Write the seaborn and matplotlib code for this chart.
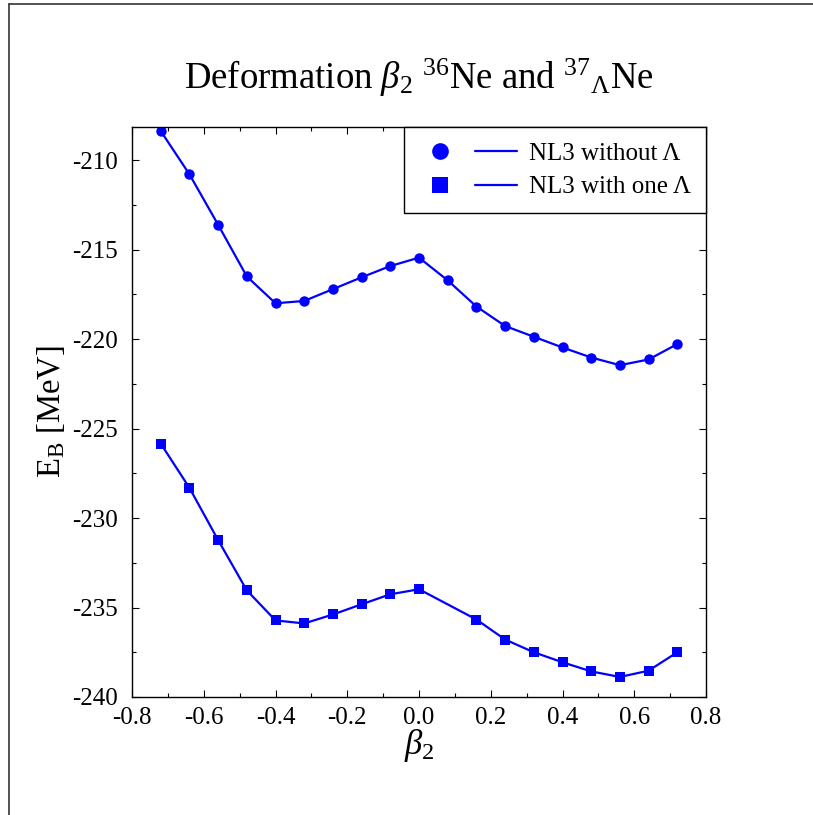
import matplotlib
matplotlib.use("Agg")
import matplotlib.pyplot as plt
import seaborn as sns
import pandas as pd
from matplotlib.lines import Line2D
from matplotlib.legend_handler import HandlerTuple
from matplotlib.ticker import MultipleLocator

# ---- data ----
beta_without = [-0.72, -0.64, -0.56, -0.48, -0.40, -0.32, -0.24, -0.16, -0.08, 0.00,
                0.08, 0.16, 0.24, 0.32, 0.40, 0.48, 0.56, 0.64, 0.72]
eb_without = [-208.37, -210.79, -213.61, -216.50, -218.00, -217.87, -217.21, -216.55,
              -215.92, -215.45, -216.72, -218.18, -219.27, -219.87, -220.47, -221.03,
              -221.46, -221.14, -220.28]
beta_with = [-0.72, -0.64, -0.56, -0.48, -0.40, -0.32, -0.24, -0.16, -0.08, 0.00,
             0.16, 0.24, 0.32, 0.40, 0.48, 0.56, 0.64, 0.72]
eb_with = [-225.84, -228.31, -231.23, -234.04, -235.72, -235.89, -235.39, -234.82,
           -234.26, -233.98, -235.67, -236.79, -237.50, -238.06, -238.57, -238.88,
           -238.53, -237.50]
label_without = "NL3 without Λ"
label_with = "NL3 with one Λ"
x_ticks = [-0.8, -0.6, -0.4, -0.2, 0.0, 0.2, 0.4, 0.6, 0.8]
y_ticks = [-240, -235, -230, -225, -220, -215, -210]

sns.set_theme(style="ticks")
plt.rcParams["font.family"] = ["Liberation Serif", "DejaVu Serif"]
plt.rcParams["mathtext.fontset"] = "custom"
plt.rcParams["mathtext.rm"] = "Liberation Serif"
plt.rcParams["mathtext.it"] = "Liberation Serif:italic"
plt.rcParams["mathtext.bf"] = "Liberation Serif:bold"
plt.rcParams["text.color"] = "black"
plt.rcParams["axes.labelcolor"] = "black"

BLUE = "#0000ff"

fig = plt.figure(figsize=(8.13, 8.15), dpi=100)
ax = fig.add_axes([132 / 813, 1 - 697 / 815, (706 - 132) / 813, (697 - 127) / 815])

df1 = pd.DataFrame({"beta": beta_without, "eb": eb_without})
df2 = pd.DataFrame({"beta": beta_with, "eb": eb_with})
sns.lineplot(data=df1, x="beta", y="eb", ax=ax, color=BLUE, lw=1.6, marker="o",
             markersize=7.5, markeredgewidth=0, estimator=None, sort=False)
sns.lineplot(data=df2, x="beta", y="eb", ax=ax, color=BLUE, lw=1.6, marker="s",
             markersize=7.5, markeredgewidth=0, estimator=None, sort=False)

ax.set_xlim(-0.8, 0.8)
ax.set_ylim(-240, -208.15)
ax.set_xticks(x_ticks)
ax.set_xticklabels([f"{v:.1f}" for v in x_ticks])
ax.set_yticks(y_ticks)
ax.set_yticklabels([f"{v:d}" for v in y_ticks])
ax.xaxis.set_minor_locator(MultipleLocator(0.1))
ax.yaxis.set_minor_locator(MultipleLocator(2.5))
ax.tick_params(which="both", direction="in", top=True, right=True, colors="black",
               labelsize=18, width=0.8)
ax.tick_params(which="major", length=5)
ax.tick_params(which="minor", length=3)
ax.tick_params(axis="x", which="major", pad=7)
ax.tick_params(axis="y", which="major", pad=10)
for s in ax.spines.values():
    s.set_color("black")
    s.set_linewidth(1.0)

ax.set_xlabel(r"$\beta_2$", fontsize=25)
ax.xaxis.set_label_coords(0.5, (697 - 746) / 570, transform=ax.transAxes)
ax.set_ylabel(r"E$_\mathrm{B}$ [MeV]", fontsize=23.5)
ax.yaxis.set_label_coords((51 - 132) / 574, 0.5, transform=ax.transAxes)
ax.xaxis.label.set_va("center")
ax.yaxis.label.set_va("center")

# legend: marker then line segment
h1 = (Line2D([], [], ls="none", marker="o", color=BLUE, markersize=12, markeredgewidth=0),
      Line2D([], [], color=BLUE, lw=1.6))
h2 = (Line2D([], [], ls="none", marker="s", color=BLUE, markersize=11, markeredgewidth=0),
      Line2D([], [], color=BLUE, lw=1.6))
leg = ax.legend([h1, h2], [label_without, label_with],
                handler_map={tuple: HandlerTuple(ndivide=None, pad=0.6)},
                loc="upper right", borderaxespad=0, fontsize=18, handlelength=3.9,
                handletextpad=0.5, labelspacing=0.45, borderpad=0.6, fancybox=False,
                frameon=True, edgecolor="black", framealpha=1)
leg.get_frame().set_linewidth(1.0)

fig.text(419 / 813, 1 - 78 / 815,
         r"Deformation $\beta_2$ $^{36}$Ne and $^{37}$$_{\mathrm{\Lambda}}$Ne",
         ha="center", va="center", fontsize=26.5)

# outer frame lines (top and left)
fig.add_artist(Line2D([9 / 813, 9 / 813], [0, 1 - 4 / 815], color="#333333", lw=1.2,
                      transform=fig.transFigure))
fig.add_artist(Line2D([9 / 813, 1], [1 - 4 / 815, 1 - 4 / 815], color="#333333", lw=1.2,
                      transform=fig.transFigure))

fig.savefig("out.png", dpi=100, facecolor="white")
